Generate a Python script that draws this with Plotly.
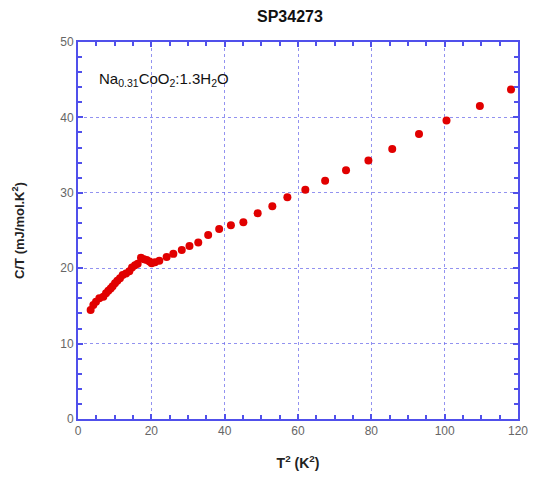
import plotly.graph_objects as go

t2 = [3.45, 4.18, 4.91, 5.82, 6.91, 7.64, 8.27, 8.91, 9.45, 10.09, 10.73, 11.45, 12.18,
      13.09, 14.0, 14.73, 15.55, 16.27, 17.18, 18.0, 18.73, 19.5, 20.09, 21.0, 22.18, 24.18,
      26.0, 28.3, 30.4, 32.8, 35.5, 38.5, 41.7, 45.1, 49.0, 53.0, 57.1, 62.0, 67.4,
      73.1, 79.2, 85.7, 93.0, 100.5, 109.6, 118.1]
ct = [14.46, 15.12, 15.56, 16.0, 16.2, 16.67, 17.0, 17.3, 17.6, 18.0, 18.35, 18.66, 19.1,
      19.3, 19.6, 20.1, 20.4, 20.6, 21.4, 21.2, 21.1, 20.9, 20.65, 20.8, 21.0, 21.5,
      21.9, 22.4, 22.95, 23.4, 24.4, 25.2, 25.7, 26.1, 27.3, 28.2, 29.4, 30.4, 31.6,
      33.0, 34.3, 35.8, 37.8, 39.6, 41.5, 43.7]

x_ticks = [0, 20, 40, 60, 80, 100, 120]
y_ticks = [0, 10, 20, 30, 40, 50]

blue = "rgb(80,80,235)"
grid = "rgba(110,110,235,0.75)"

fig = go.Figure()
fig.add_trace(go.Scatter(x=t2, y=ct, mode="markers",
                         marker=dict(color="rgb(225,0,0)", size=8, line=dict(width=0)),
                         showlegend=False))

axis_common = dict(showline=True, linecolor=blue, linewidth=2, mirror="allticks",
                   ticks="inside", tickcolor=blue, ticklen=5, tickwidth=1.5,
                   showgrid=True, gridcolor=grid, griddash="dot", gridwidth=1,
                   zeroline=False, automargin=False,
                   tickfont=dict(family="Liberation Sans, Arial", size=12, color="#666"))

fig.update_xaxes(range=[0, 120], tickvals=x_ticks, ticktext=[str(v) for v in x_ticks],
                 minor=dict(dtick=5, ticks="inside", ticklen=4, tickcolor=blue, showgrid=False),
                 title=dict(text="<b>T<sup>2</sup> (K<sup>2</sup>)</b>",
                            font=dict(family="Liberation Sans, Arial", size=14, color="#222"),
                            standoff=21),
                 **axis_common)
fig.update_yaxes(range=[0, 50], tickvals=y_ticks, ticktext=[str(v) for v in y_ticks],
                 minor=dict(dtick=2, ticks="inside", ticklen=4, tickcolor=blue, showgrid=False),
                 title=dict(text="<b>C/T (mJ/mol.K<sup>2</sup>)</b>",
                            font=dict(family="Liberation Sans, Arial", size=13, color="#222"),
                            standoff=33),
                 **axis_common)

fig.add_annotation(text="Na<sub>0.31</sub>CoO<sub>2</sub>:1.3H<sub>2</sub>O",
                   xref="x", yref="y", x=5.2, y=45.0, xanchor="left", yanchor="middle",
                   showarrow=False,
                   font=dict(family="Liberation Sans, Arial", size=15, color="#111"))

fig.update_layout(
    width=536, height=479,
    margin=dict(l=70, r=26, t=34, b=68),
    paper_bgcolor="white", plot_bgcolor="white",
    title=dict(text="<b>SP34273</b>", x=0.526, xanchor="center", y=0.983, yanchor="middle",
               font=dict(family="Liberation Sans, Arial", size=16, color="#111")),
)

fig.write_html("out.html")
